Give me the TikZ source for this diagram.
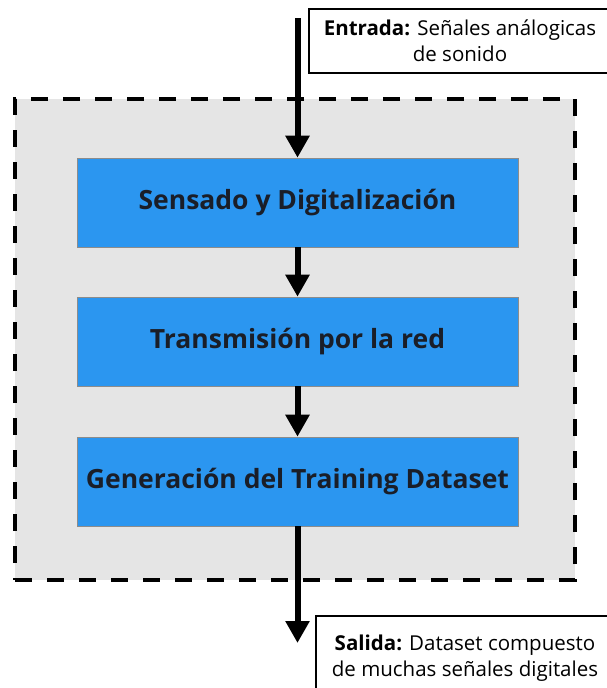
\documentclass[tikz,border=0pt]{standalone}
\usepackage{fontspec}
\setmainfont{Open Sans}
\usetikzlibrary{arrows.meta}
\definecolor{blockblue}{RGB}{43,150,240}
\definecolor{framegray}{RGB}{229,229,229}
\definecolor{blocktext}{RGB}{26,30,40}
\tikzset{
  frame/.style={draw=black, fill=framegray, line width=4.5pt, dash pattern=on 17pt off 15pt},
  block/.style={draw=black!45, fill=blockblue, line width=0.6pt, minimum width=441pt, minimum height=89pt, inner sep=0pt, text=blocktext, font=\fontsize{26.5}{30}\selectfont\bfseries},
  label/.style={draw=black, fill=white, line width=1.3pt, align=center, inner sep=0pt, font=\fontsize{20.5}{26}\selectfont},
  flow/.style={line width=6pt, -{Triangle[width=23pt,length=22pt]}},
}
\begin{document}
\begin{tikzpicture}[x=1pt,y=-1pt]
\useasboundingbox (0,0) rectangle (606,688);
\node[frame, minimum width=560pt, minimum height=481pt, inner sep=0pt] (frame) at (295,339.5) {};
\node[block] (b1) at (297.5,202.5) {Sensado y Digitalización};
\node[block] (b2) at (297.5,341.5) {Transmisión por la red};
\node[block] (b3) at (297.5,481.5) {Generación del Training Dataset};
\node[label, minimum width=302pt, minimum height=64pt] (in) at (460,41) {\textbf{Entrada:} Señales análogicas\\de sonido};
\node[label, minimum width=298pt, minimum height=84pt] (out) at (465,658) {\textbf{Salida:} Dataset compuesto\\de muchas señales digitales};
\coordinate (start) at (297.5,18);
\coordinate (end) at (297.5,643);
\draw[flow] (start) -- (b1.north);
\draw[flow] (b1.south) -- (b2.north);
\draw[flow] (b2.south) -- (b3.north);
\draw[flow] (b3.south) -- (end);
\end{tikzpicture}
\end{document}
